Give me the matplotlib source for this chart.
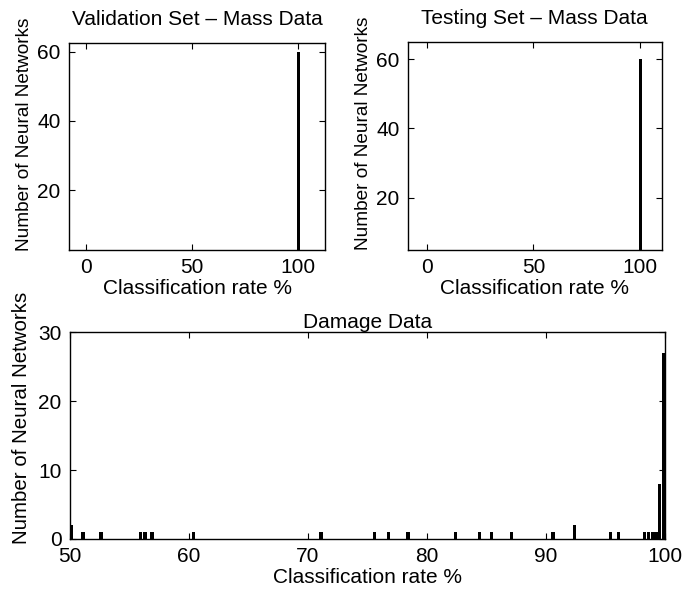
import matplotlib
matplotlib.use("Agg")
import matplotlib.pyplot as plt

plt.rcParams['font.family'] = ['Liberation Sans', 'DejaVu Sans']
plt.rcParams['font.size'] = 15

# mass data: all networks reach 100 %
val_rate = [100]
val_count = [60]
test_rate = [100]
test_count = [60]

# damage data histogram
dmg_rate = [50.1, 51.1, 52.6, 55.9, 56.3, 56.9, 60.4, 71.1, 75.6, 76.8, 78.4,
            82.4, 84.4, 85.4, 87.1, 90.6, 92.4, 95.4, 96.1, 98.3, 98.6, 99.0,
            99.25, 99.55, 99.85]
dmg_count = [2, 1, 1, 1, 1, 1, 1, 1, 1, 1, 1,
             1, 1, 1, 1, 1, 2, 1, 1, 1, 1, 1,
             1, 8, 27]

ylabel = 'Number of Neural Networks'
xlabel = 'Classification rate %'


def style_axes(ax):
    ax.tick_params(direction='in', top=True, right=True, length=4, width=0.8,
                   labelsize=15, pad=6)
    for s in ax.spines.values():
        s.set_linewidth(1.0)


fig = plt.figure(figsize=(6.83, 5.89), dpi=100)

ax1 = fig.add_axes([0.101, 0.5756, 0.375, 0.3514])
ax1.bar(val_rate, [c - 2.7 for c in val_count], bottom=2.7, width=1.4, color='black')
ax1.set_xlim(-8, 112.7)
ax1.set_ylim(2.7, 62.5)
ax1.set_xticks([0, 50, 100])
ax1.set_yticks([20, 40, 60])
ax1.set_title('Validation Set \u2013 Mass Data', fontsize=15, pad=13)
ax1.set_xlabel(xlabel, labelpad=1)
ax1.set_ylabel(ylabel, fontsize=13.7)
ax1.yaxis.set_label_coords(-0.14, 0.56)
style_axes(ax1)

ax2 = fig.add_axes([0.597, 0.5756, 0.372, 0.353])
ax2.bar(test_rate, [c - 4.9 for c in test_count], bottom=4.9, width=1.4, color='black')
ax2.set_xlim(-8.9, 110.2)
ax2.set_ylim(4.9, 64.9)
ax2.set_xticks([0, 50, 100])
ax2.set_yticks([20, 40, 60])
ax2.set_title('Testing Set \u2013 Mass Data', fontsize=15, pad=13)
ax2.set_xlabel(xlabel, labelpad=1)
ax2.set_ylabel(ylabel, fontsize=13.7)
ax2.yaxis.set_label_coords(-0.142, 0.56)
style_axes(ax2)

ax3 = fig.add_axes([0.1025, 0.0849, 0.871, 0.3514])
ax3.bar(dmg_rate, dmg_count, width=0.27, color='black')
ax3.set_xlim(50, 100)
ax3.set_ylim(0, 30)
ax3.set_xticks(range(50, 101, 10))
ax3.set_yticks([0, 10, 20, 30])
ax3.set_title('Damage Data', fontsize=15, pad=3)
ax3.set_xlabel(xlabel, labelpad=1)
ax3.set_ylabel(ylabel, fontsize=14.8)
ax3.yaxis.set_label_coords(-0.066, 0.585)
style_axes(ax3)

fig.savefig('out.png', dpi=100)
